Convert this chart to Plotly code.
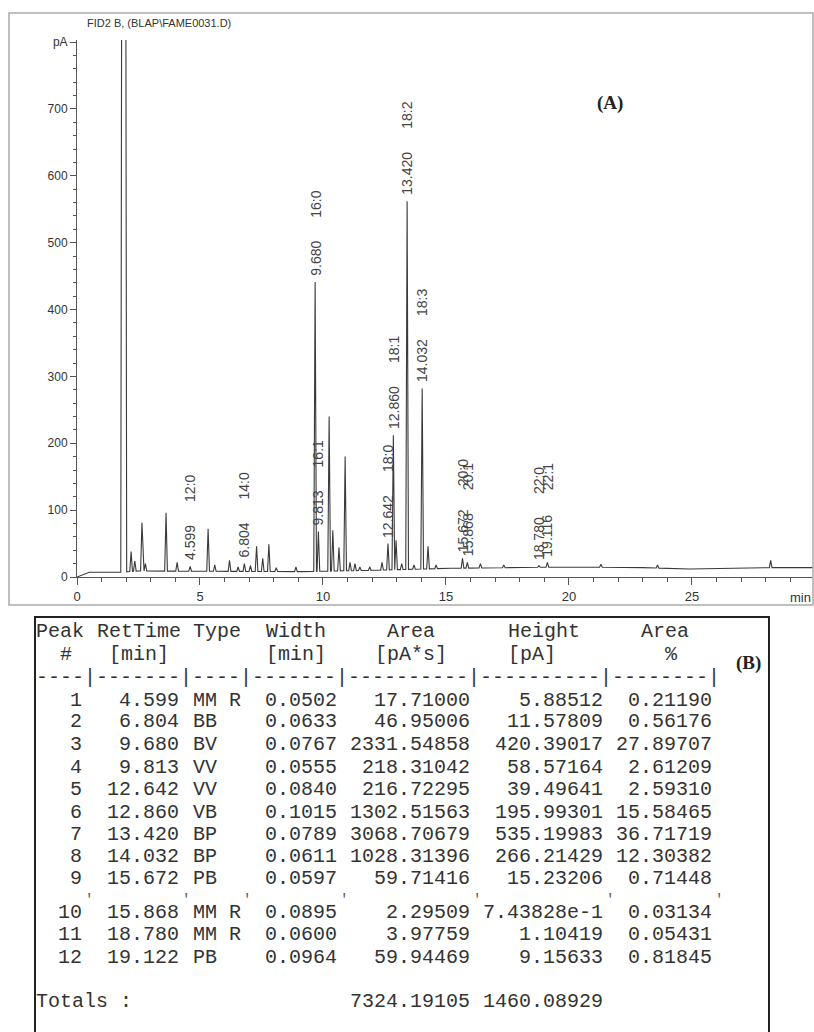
import numpy as np
import plotly.graph_objects as go

# ---------------- Chromatogram data ----------------
# baseline anchors: time [min], signal [pA]
baseline_times = [0.0, 0.5, 1.75, 2.5, 9.0, 12.0, 15.2, 20.0, 23.0, 24.9, 27.0, 29.92]
baseline_levels = [0, 7, 7, 9, 8, 10, 13, 15, 14, 12, 14, 14]

# solvent peak (off scale)
solvent_time = 1.9
solvent_height = 3000

# peak apex: retention time [min], apex signal [pA]
peak_times = [2.2, 2.35, 2.64, 2.78, 3.62, 4.07, 4.599, 5.33, 5.6, 6.2, 6.55, 6.804,
              7.05, 7.3, 7.55, 7.8, 8.1, 8.9, 9.680, 9.813, 10.25, 10.4, 10.65, 10.9,
              11.1, 11.3, 11.5, 11.9, 12.4, 12.642, 12.860, 12.97, 13.2, 13.420, 13.7,
              14.032, 14.27, 14.6, 15.672, 15.868, 16.4, 17.35, 18.0, 18.780, 19.122,
              19.6, 21.3, 23.6, 28.2]
peak_heights = [38, 24, 81, 20, 96, 22, 16, 72, 18, 25, 15, 20,
                17, 46, 28, 49, 14, 15, 441, 68, 240, 70, 44, 180,
                22, 20, 15, 15, 22, 50, 212, 55, 20, 562, 18,
                282, 46, 18, 28, 22, 20, 18, 14, 17, 22,
                15, 19, 18, 25]

# labelled peaks
label_times = [4.599, 6.804, 9.680, 9.813, 12.642, 12.860, 13.420, 14.032, 15.672, 15.868, 18.780, 19.122]
label_texts = ["4.599", "6.804", "9.680", "9.813", "12.642", "12.860", "13.420", "14.032",
               "15.672", "15.868", "18.780", "19.116"]
label_names = ["12:0", "14:0", "16:0", "16:1", "18:0", "18:1", "18:2", "18:3", "20:0", "20:1", "22:0", "22:1"]

# ---------------- Table data ----------------
peak_no = ["1", "2", "3", "4", "5", "6", "7", "8", "9", "10", "11", "12"]
ret_time = ["4.599", "6.804", "9.680", "9.813", "12.642", "12.860", "13.420", "14.032",
            "15.672", "15.868", "18.780", "19.122"]
peak_type = ["MM R", "BB", "BV", "VV", "VV", "VB", "BP", "BP", "PB", "MM R", "MM R", "PB"]
peak_width = ["0.0502", "0.0633", "0.0767", "0.0555", "0.0840", "0.1015", "0.0789", "0.0611",
              "0.0597", "0.0895", "0.0600", "0.0964"]
peak_area = ["17.71000", "46.95006", "2331.54858", "218.31042", "216.72295", "1302.51563",
             "3068.70679", "1028.31396", "59.71416", "2.29509", "3.97759", "59.94469"]
peak_height = ["5.88512", "11.57809", "420.39017", "58.57164", "39.49641", "195.99301",
               "535.19983", "266.21429", "15.23206", "7.43828e-1", "1.10419", "9.15633"]
area_pct = ["0.21190", "0.56176", "27.89707", "2.61209", "2.59310", "15.58465", "36.71719",
            "12.30382", "0.71448", "0.03134", "0.05431", "0.81845"]
total_area = "7324.19105"
total_height = "1460.08929"

# ---------------- Build the trace ----------------
HW = 0.055          # half base width of a drawn peak [min]
SOLV_HW = 0.12
bt = np.array(baseline_times, float)
bl = np.array(baseline_levels, float)

segs = [(solvent_time, solvent_height, SOLV_HW)] + [(t, h, HW) for t, h in zip(peak_times, peak_heights)]
pts = []
for t, h, w in segs:
    pts.append((t - w, float(np.interp(t - w, bt, bl))))
    pts.append((t, h))
    pts.append((t + w, float(np.interp(t + w, bt, bl))))
for t, y in zip(baseline_times, baseline_levels):
    if not any(abs(t - s[0]) <= s[2] for s in segs):
        pts.append((t, y))
pts.sort(key=lambda p: p[0])
xs = [p[0] for p in pts]
ys = [p[1] for p in pts]

fig = go.Figure()
fig.add_trace(go.Scatter(x=xs, y=ys, mode="lines", line=dict(color="#3a3a3a", width=1.1),
                         hoverinfo="skip", showlegend=False))

# ---------------- Layout geometry ----------------
W, H = 814, 1032
L, R, T, B = 77, 1, 40, 455
PW = W - L - R
PH = H - T - B


def xp(px):
    return (px - L) / PW


def yp(py):
    return (H - B - py) / PH


ann = []
shapes = []
chart_font = "Liberation Sans"

# peak labels (rotated)
apex = dict(zip(peak_times, peak_heights))
for t, txt, nm in zip(label_times, label_texts, label_names):
    h = apex[t]
    ann.append(dict(x=t, y=h, xref="x", yref="y", text=txt, textangle=-90, showarrow=False,
                    xanchor="center", yanchor="bottom", yshift=5, borderpad=0,
                    font=dict(family=chart_font, size=14, color="#444")))
    ann.append(dict(x=t, y=h, xref="x", yref="y", text=nm, textangle=-90, showarrow=False,
                    xanchor="center", yanchor="bottom", yshift=5 + len(txt) * 8 + 18, borderpad=0,
                    font=dict(family=chart_font, size=14, color="#444")))

# title, panel labels
ann.append(dict(x=xp(159), y=yp(23), xref="paper", yref="paper", text="FID2 B, (BLAP\\FAME0031.D)",
                showarrow=False, xanchor="center", yanchor="middle",
                font=dict(family=chart_font, size=11, color="#333")))
ann.append(dict(x=xp(610), y=yp(103), xref="paper", yref="paper", text="<b>(A)</b>",
                showarrow=False, xanchor="center", yanchor="middle",
                font=dict(family="Liberation Serif", size=19, color="#222")))
ann.append(dict(x=xp(812), y=yp(597), xref="paper", yref="paper", text="min",
                showarrow=False, xanchor="right", yanchor="middle", borderpad=0,
                font=dict(family=chart_font, size=13, color="#333")))
ann.append(dict(x=xp(748), y=yp(663), xref="paper", yref="paper", text="<b>(B)</b>",
                showarrow=False, xanchor="center", yanchor="middle",
                font=dict(family="Liberation Serif", size=19, color="#222")))

# chart frame
shapes.append(dict(type="rect", xref="paper", yref="paper", x0=xp(9), x1=xp(813), y0=yp(605), y1=yp(13),
                   line=dict(color="#aaa", width=1.5)))
# table box
shapes.append(dict(type="rect", xref="paper", yref="paper", x0=xp(35), x1=xp(769), y0=yp(1040), y1=yp(617),
                   line=dict(color="#222", width=2)))

# ---------------- Table text ----------------
CW = 12.1
X0 = 35
mono = dict(family="Liberation Mono", size=20, color="#333")


def cell_left(col, py, text):
    ann.append(dict(x=xp(X0 + col * CW), y=yp(py), xref="paper", yref="paper", text=text,
                    showarrow=False, xanchor="left", yanchor="middle", borderpad=0, font=mono))


def cell_right(col_end, py, text):
    ann.append(dict(x=xp(X0 + (col_end + 1) * CW), y=yp(py), xref="paper", yref="paper", text=text,
                    showarrow=False, xanchor="right", yanchor="middle", borderpad=0, font=mono))


for col, txt in [(0, "Peak"), (5, "RetTime"), (13, "Type"), (19, "Width"), (29, "Area"), (39, "Height"), (50, "Area")]:
    cell_left(col, 631, txt)
for col, txt in [(2, "#"), (6, "[min]"), (19, "[min]"), (28, "[pA*s]"), (39, "[pA]"), (52, "%")]:
    cell_left(col, 654, txt)
cell_left(0, 677, "----|-------|----|-------|----------|----------|--------|")

row_y = [700, 722, 744, 767, 789, 812, 834, 856, 878, 912, 935, 957]
for i, py in enumerate(row_y):
    cell_right(3, py, peak_no[i])
    cell_right(11, py, ret_time[i])
    cell_left(13, py, peak_type[i])
    cell_right(24, py, peak_width[i])
    cell_right(35, py, peak_area[i])
    cell_right(46, py, peak_height[i])
    cell_right(55, py, area_pct[i])

# faint separator marks between rows 9 and 10
for col in [4, 12, 17, 25, 36, 47, 56]:
    ann.append(dict(x=xp(X0 + (col + 0.5) * CW), y=yp(900), xref="paper", yref="paper", text="'",
                    showarrow=False, xanchor="center", yanchor="middle", borderpad=0,
                    font=dict(family="Liberation Mono", size=14, color="#555")))

cell_left(0, 1001, "Totals :")
cell_right(35, 1001, total_area)
cell_right(46, 1001, total_height)

# ---------------- Axes ----------------
axis_col = "#555"
fig.update_xaxes(range=[0, 29.92], showline=True, linecolor=axis_col, linewidth=1, showgrid=False,
                 zeroline=False, ticks="outside", ticklen=7, tickcolor=axis_col,
                 tickvals=[0, 5, 10, 15, 20, 25],
                 minor=dict(dtick=1, tick0=0, ticks="outside", ticklen=4, tickcolor=axis_col, showgrid=False),
                 tickfont=dict(family=chart_font, size=13, color="#333"))
fig.update_yaxes(range=[0, 803], showline=True, linecolor=axis_col, linewidth=1, showgrid=False,
                 zeroline=False, ticks="outside", ticklen=6, tickcolor=axis_col,
                 tickvals=[0, 100, 200, 300, 400, 500, 600, 700, 800],
                 ticktext=["0", "100", "200", "300", "400", "500", "600", "700", "pA"],
                 minor=dict(dtick=20, tick0=0, ticks="outside", ticklen=3, tickcolor=axis_col, showgrid=False),
                 tickfont=dict(family=chart_font, size=12, color="#333"))

fig.update_layout(width=W, height=H, margin=dict(l=L, r=R, t=T, b=B),
                  plot_bgcolor="white", paper_bgcolor="white", showlegend=False,
                  annotations=ann, shapes=shapes)

fig.write_html("out.html", config={"displayModeBar": False},
               post_script="document.body.style.margin='0';document.body.style.overflow='hidden';")
